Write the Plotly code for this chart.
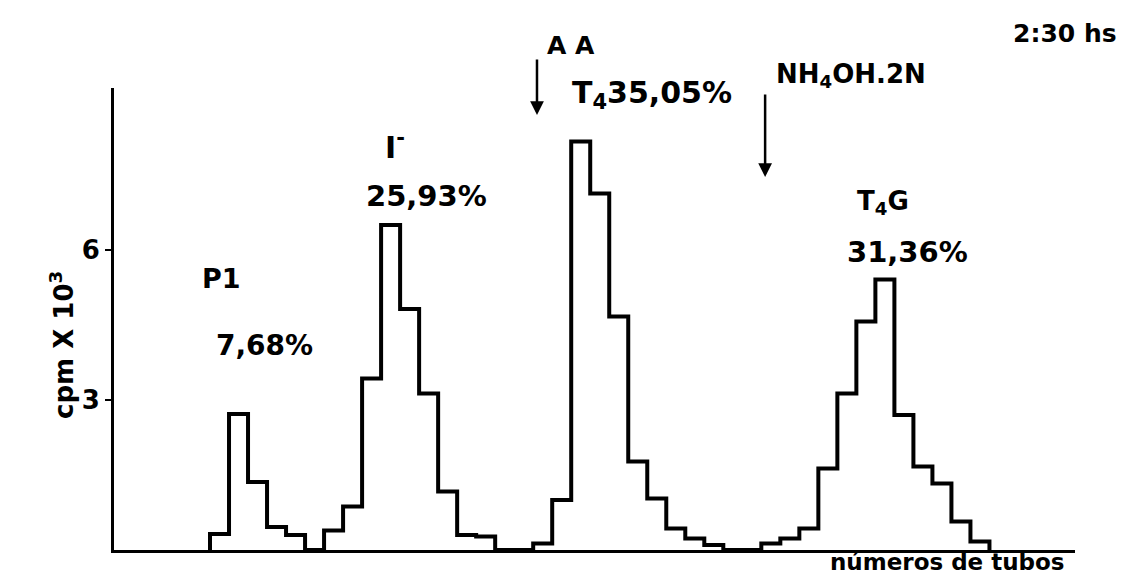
import plotly.graph_objects as go

# ---- data ----
tubes = list(range(1, 42))
p1 = [0.32, 2.72, 1.36, 0.46, 0.30]
iodide = [0.39, 0.87, 3.43, 6.50, 4.82, 3.13, 1.17, 0.30, 0.27]
t4 = [0.13, 1.00, 8.17, 7.13, 4.67, 1.77, 1.03, 0.43, 0.23, 0.10]
t4g = [0.13, 0.23, 0.43, 1.63, 3.13, 4.57, 5.41, 2.70, 1.67, 1.33, 0.57, 0.17]
cpm = p1 + [0.0] + iodide + [0.0, 0.0] + t4 + [0.0, 0.0] + t4g

y_ticks = [3, 6]
y_tick_labels = ["3", "6"]

FONT = "DejaVu Sans"

# step outline: tube k spans [k-1, k]
xs = [tubes[0] - 1] + [t - 1 for t in tubes] + [tubes[-1]]
ys = [0.0] + cpm + [0.0]

fig = go.Figure()
fig.add_trace(go.Scatter(
    x=xs, y=ys, mode="lines", line=dict(shape="hv", color="black", width=4),
    hoverinfo="skip", showlegend=False))

def lab(text, x, y, size=28, yref="y", yanchor="middle"):
    fig.add_annotation(text=text, x=x, y=y, xref="x", yref=yref, showarrow=False,
                       font=dict(family=FONT, size=size, color="black", weight="bold"),
                       xanchor="center", yanchor=yanchor, borderpad=0)

lab("P1", 0.58, 5.44, size=27)
lab("7,68%", 2.89, 4.10, size=28)
lab("I<sup>-</sup>", 9.74, 8.10, size=30)
lab("25,93%", 11.37, 7.08, size=29)
lab("T<sub>4</sub>35,05%", 23.26, 9.12, size=30)
lab("T<sub>4</sub>G", 35.4, 6.95, size=26)
lab("31,36%", 36.7, 5.96, size=29)
# texts outside the value range: vertical position in plot-area fractions
lab("A A", 19.0, 1.091, size=25, yref="paper")
lab("NH<sub>4</sub>OH.2N", 33.7, 1.028, size=26, yref="paper")
lab("2:30 hs", 45.0, 1.117, size=25, yref="paper")
lab("números de tubos", 38.8, -0.056, size=23, yref="paper", yanchor="bottom")

# arrows (AA and NH4OH additions)
for ax_x, ax_y, tail in [(17.2, 8.7, -57), (29.2, 7.46, -84)]:
    fig.add_annotation(x=ax_x, y=ax_y, xref="x", yref="y", ax=0, ay=tail,
                       showarrow=True, arrowhead=2, arrowsize=1.1, arrowwidth=2.5,
                       arrowcolor="black", text="")

# y-axis title
fig.add_annotation(text="cpm X 10<sup>3</sup>", xref="paper", yref="paper",
                   x=-0.054, y=0.444, textangle=-90, showarrow=False,
                   font=dict(family=FONT, size=26, color="black", weight="bold"),
                   xanchor="center", yanchor="middle")

fig.update_xaxes(range=[-5.05, 45.5], showline=True, linecolor="black", linewidth=3,
                 showticklabels=False, ticks="", showgrid=False, zeroline=False)
fig.update_yaxes(range=[0, 9.24], showline=True, linecolor="black", linewidth=3,
                 tickvals=y_ticks, ticktext=y_tick_labels, ticks="outside", ticklen=6,
                 tickwidth=2, tickcolor="black",
                 tickfont=dict(family=FONT, size=26, color="black", weight="bold"),
                 showgrid=False, zeroline=False)

# page body adds an 8px margin, so the figure is sized/offset to compensate
fig.update_layout(width=1118, height=569, margin=dict(l=106, r=51, t=80, b=27),
                  paper_bgcolor="white", plot_bgcolor="white")

fig.write_html("out.html")
